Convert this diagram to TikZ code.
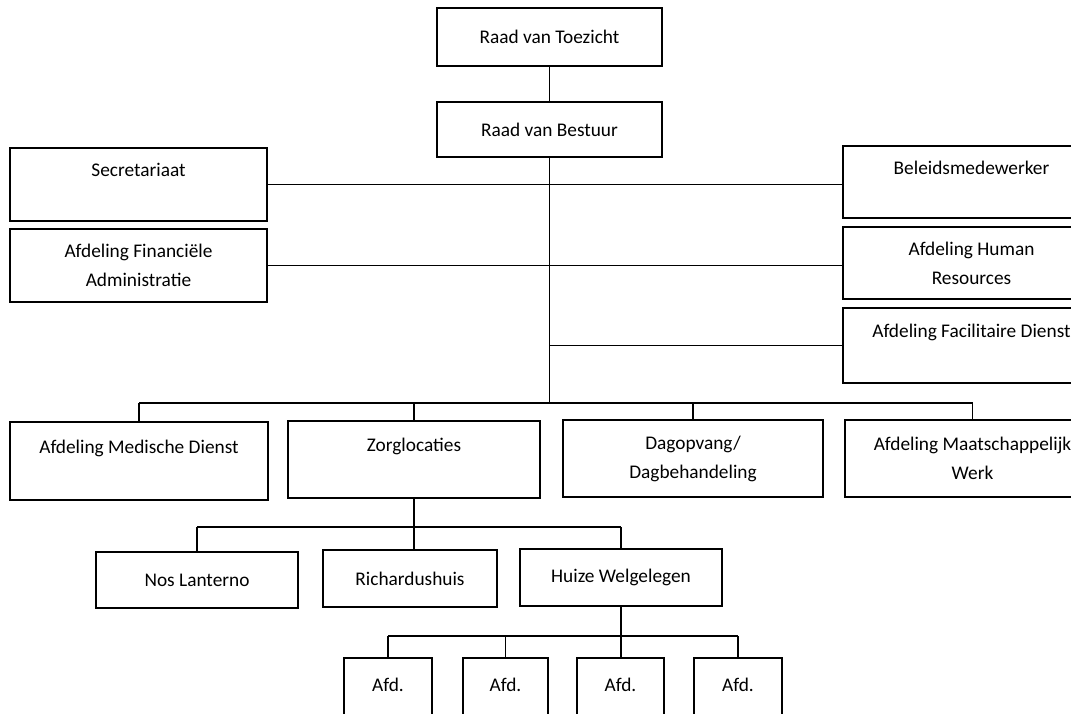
\documentclass[tikz,border=0pt]{standalone}
\usepackage{fontspec}
\setmainfont{Carlito}
\usetikzlibrary{positioning}

\tikzset{
  box/.style 2 args={draw, line width=1.1pt, align=center,
    minimum width=#1*0.02cm, minimum height=#2*0.02cm,
    font=\fontsize{11}{16.5}\selectfont},
  link/.style={line width=1.1pt}
}

\begin{document}
\begin{tikzpicture}[x=0.02cm, y=-0.02cm]
        \useasboundingbox (0,0) rectangle (1071,713);
        \clip (0,0) rectangle (1071,713);
        % top
        \node[box={225}{58}] (rvt) at (549.5,37) {Raad van Toezicht};
        \node[box={225}{55}] (rvb) at (549.5,129.5) {Raad van Bestuur};
        % staff
        \node[box={257}{73}] (secr) at (138.5,184.5) {Secretariaat\\\mbox{}};
        \node[box={257}{73}] (fin) at (138.5,265.5) {Afdeling Financiële\\Administratie};
        \node[box={257}{72}] (beleid) at (971.5,182) {Beleidsmedewerker\\\mbox{}};
        \node[box={257}{72}] (hr) at (971.5,263) {Afdeling Human\\Resources};
        \node[box={257}{75}] (facil) at (971.5,345.5) {Afdeling Facilitaire Dienst\\\mbox{}};
        % departments
        \node[box={258}{78}] (medisch) at (139,461) {Afdeling Medische Dienst\\\mbox{}};
        \node[box={252}{77}] (zorg) at (414,459.5) {Zorglocaties\\\mbox{}};
        \node[box={260}{77}] (dag) at (693,458.5) {Dagopvang/\\Dagbehandeling};
        \node[box={255}{77}] (maatsch) at (972.5,458.5) {Afdeling Maatschappelijk\\Werk};
        % locations
        \node[box={202}{56}] (nos) at (197,580) {Nos Lanterno};
        \node[box={174}{57}] (richard) at (410,578.5) {Richardushuis};
        \node[box={202}{57}] (huize) at (621,577.5) {Huize Welgelegen};
        % afdelingen
        \node[box={88}{82}] (afd1) at (388,699) {Afd.\\\mbox{}};
        \node[box={85}{82}] (afd2) at (505.5,699) {Afd.\\\mbox{}};
        \node[box={87}{82}] (afd3) at (620.5,699) {Afd.\\\mbox{}};
        \node[box={88}{82}] (afd4) at (738,699) {Afd.\\\mbox{}};
        \coordinate (bus1) at (549.5,403);
        \coordinate (bus2) at (414,527);
        \coordinate (bus3) at (621,636);

        \draw[link] (rvt.south) -- (rvb.north);
        \draw[link] (rvb.south) -- (bus1);
        \draw[link] (secr.east) -- (secr.east -| beleid.west);
        \draw[link] (fin.east) -- (fin.east -| hr.west);
        \draw[link] (facil.west -| bus1) -- (facil.west);
        \draw[link] (medisch.north |- bus1) -- (maatsch.north |- bus1);
        \foreach \n in {medisch,zorg,dag,maatsch}
            \draw[link] (\n.north) -- (\n.north |- bus1);
        \draw[link] (zorg.south) -- (zorg.south |- richard.north);
        \draw[link] (nos.north |- bus2) -- (huize.north |- bus2);
        \foreach \n in {nos,huize}
            \draw[link] (\n.north) -- (\n.north |- bus2);
        \draw[link] (huize.south) -- (huize.south |- afd3.north);
        \draw[link] (afd1.north |- bus3) -- (afd4.north |- bus3);
        \foreach \n in {afd1,afd2,afd4}
            \draw[link] (\n.north) -- (\n.north |- bus3);
    \end{tikzpicture}
\end{document}
